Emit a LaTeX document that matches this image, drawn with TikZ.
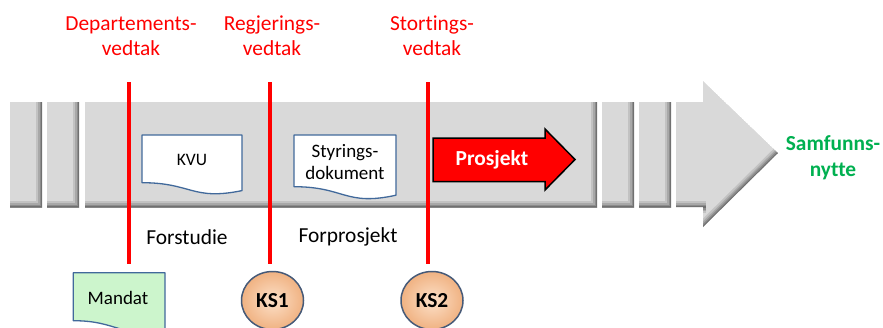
\documentclass[tikz,border=0pt]{standalone}
\usepackage{fontspec}
\setmainfont{Carlito}[Ligatures=NoCommon]
\usetikzlibrary{shapes.geometric}

\definecolor{bandgray}{RGB}{217,217,217}
\definecolor{vedtakred}{RGB}{255,0,0}
\definecolor{nyttegreen}{RGB}{0,176,80}
\definecolor{docblue}{RGB}{65,105,155}
\definecolor{mandatgreen}{RGB}{204,245,204}
\definecolor{kslight}{RGB}{252,224,200}
\definecolor{ksdark}{RGB}{240,178,130}
\definecolor{ksedge}{RGB}{70,90,120}

\tikzset{
  bigtext/.style={font=\fontsize{21.4}{25}\selectfont, inner sep=0pt},
  vedtak/.style={bigtext, text=vedtakred, align=center},
  milestone/.style={draw=vedtakred, line width=4pt},
  docshape/.style={draw=docblue, line width=1.3pt, fill=white, line join=round},
  doctext/.style={font=\fontsize{19}{22}\selectfont, inner sep=0pt, align=center},
  ksball/.style={ellipse, minimum width=62pt, minimum height=58pt, inner sep=0pt,
    shading=radial, inner color=kslight, outer color=ksdark,
    draw=ksedge, line width=1.5pt, font=\bfseries\fontsize{21.4}{25}\selectfont},
}

% soft inner shadow along the given edges (used inside a clip)
\newcommand\bandshadow[1]{%
  \foreach \w/\o in {12/0.10,8/0.13,5/0.16,2/0.20}{%
    \draw[line width=\w pt, black, opacity=\o, line join=miter] #1;}}

% one grey segment of the time band
\newcommand\bandseg[2]{%
  \begin{scope}
    \clip (#1,102) rectangle (#2,207);
    \fill[bandgray] (#1,102) rectangle (#2,207);
    \bandshadow{(#2,102) -- (#2,207) -- (#1,207)}
  \end{scope}}

\begin{document}
\begin{tikzpicture}[x=1pt,y=-1pt]
\useasboundingbox (0,0) rectangle (883,327);

% time band
\bandseg{10}{42}
\bandseg{47}{79}
\bandseg{85}{597}
\bandseg{602}{634}
\bandseg{639}{671}
\begin{scope}
  \clip (676,102) -- (703,102) -- (703,81) -- (778,153) -- (703,227) -- (703,207) -- (676,207) -- cycle;
  \fill[bandgray] (676,102) -- (703,102) -- (703,81) -- (778,153) -- (703,227) -- (703,207) -- (676,207) -- cycle;
  \bandshadow{(778,153) -- (703,227)}
  \bandshadow{(706,207) -- (676,207)}
\end{scope}

% documents on the band
\draw[docshape] (142,135) -- (242,135) -- (242,190.6)
  .. controls (192,200.9) and (192,182.7) .. (142,182.7) -- cycle;
\node[doctext, font=\fontsize{17.5}{20}\selectfont] (kvu) at (192,160) {KVU};

\draw[docshape] (294,135) -- (396,135) -- (396,195.2)
  .. controls (345,206.4) and (345,186.7) .. (294,186.7) -- cycle;
\node[doctext] (styr) at (345,162) {Styrings-\\dokument};

% project arrow
\draw[fill=vedtakred, draw=black, line width=1.5pt, line join=miter]
  (433,138) -- (545,138) -- (545,129) -- (575,159.5) -- (545,190) -- (545,181.7) -- (433,181.7) -- cycle;
\node[font=\bfseries\fontsize{21.4}{25}\selectfont, text=white, inner sep=0pt] (prosj) at (492,160) {Prosjekt};

% decision lines
\coordinate (dep-top) at (129,82);  \coordinate (dep-bot) at (129,264);
\coordinate (reg-top) at (270,82);  \coordinate (reg-bot) at (270,264);
\coordinate (sto-top) at (428,82);  \coordinate (sto-bot) at (428,264);
\draw[milestone] (dep-top) -- (dep-bot);
\draw[milestone] (reg-top) -- (reg-bot);
\draw[milestone] (sto-top) -- (sto-bot);

\node[vedtak] (dep) at (131,36) {Departements-\\vedtak};
\node[vedtak] (reg) at (272,36) {Regjerings-\\vedtak};
\node[vedtak] (sto) at (432,36) {Stortings-\\vedtak};

% phase names
\node[bigtext] (forst) at (187,237) {Forstudie};
\node[bigtext] (forpr) at (348,237) {Forprosjekt};

% outcome
\node[bigtext, font=\bfseries\fontsize{21.4}{26}\selectfont, text=nyttegreen, align=center] (nytte) at (833,158) {Samfunns-\\nytte};

% mandate document
\draw[docshape, fill=mandatgreen] (73.3,272.7) -- (165,272.7) -- (165,328.6)
  .. controls (119,338.9) and (119,320.7) .. (73.3,320.7) -- cycle;
\node[doctext] (mandat) at (118,298) {Mandat};

% quality assurance points
\node[ksball] (ks1) at (272.5,300.5) {KS1};
\node[ksball] (ks2) at (432,300.5) {KS2};

\end{tikzpicture}
\end{document}
